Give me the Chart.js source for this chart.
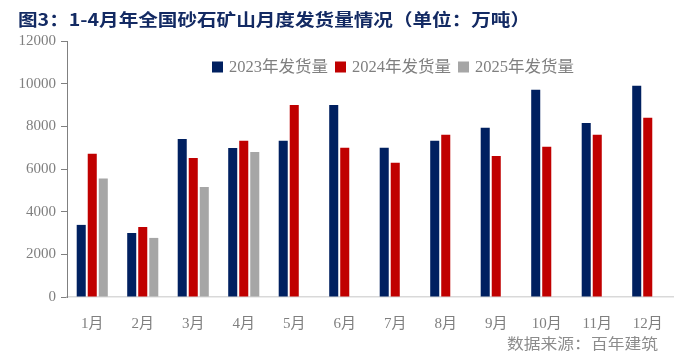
<!DOCTYPE html>
<html lang="zh">
<head>
<meta charset="UTF-8">
<title>全国砂石矿山月度发货量情况</title>
<script src="https://cdn.jsdelivr.net/npm/chart.js"></script>
<style>
  html, body { margin: 0; padding: 0; background: #fff; }
  #wrap { width: 692px; height: 358px; position: relative; }
</style>
</head>
<body>
<div id="wrap"><canvas id="chart"></canvas></div>
<script>
// data (万吨)
const months = ['1月', '2月', '3月', '4月', '5月', '6月', '7月', '8月', '9月', '10月', '11月', '12月'];
const ship2023 = [3380, 3000, 7410, 6990, 7320, 9000, 7000, 7320, 7930, 9710, 8160, 9900];
const ship2024 = [6710, 3280, 6520, 7320, 9000, 7000, 6290, 7600, 6610, 7040, 7600, 8400];
const ship2025 = [5550, 2770, 5160, 6800, null, null, null, null, null, null, null, null];
const yTicks = [0, 2000, 4000, 6000, 8000, 10000, 12000];
const seriesNames = ['2023年发货量', '2024年发货量', '2025年发货量'];
const titleText = '图3：1-4月年全国砂石矿山月度发货量情况（单位：万吨）';
const sourceText = '数据来源：百年建筑';

const colors = ['#002060', '#c00000', '#a6a6a6'];
const gray = '#7f7f7f';
const fontFam = '"Liberation Serif", "Noto Sans CJK SC", serif';

// title, legend and source are drawn by hand so they can sit inside the plot
const textPlugin = {
  id: 'texts',
  afterDraw(chart) {
    const ctx = chart.ctx;

    // title, stretched a little like the original
    ctx.save();
    ctx.font = 'bold 17px "Noto Sans CJK SC"';
    ctx.fillStyle = '#132a63';
    ctx.textBaseline = 'middle';
    const tw = ctx.measureText(titleText).width;
    ctx.translate(18, 20);
    ctx.scale(512 / tw, 1);
    ctx.fillText(titleText, 0, 0);
    ctx.restore();

    // legend
    chart.data.datasets.forEach((ds, i) => {
      const x = 212 + i * 123;
      const y = 67;
      ctx.save();
      ctx.fillStyle = ds.backgroundColor;
      ctx.fillRect(x, y - 5.5, 11, 11);
      ctx.font = '16px ' + fontFam;
      ctx.fillStyle = gray;
      ctx.textBaseline = 'middle';
      const w = ctx.measureText(ds.label).width;
      ctx.translate(x + 17, y + 1);
      ctx.scale(99 / w, 1);
      ctx.fillText(ds.label, 0, 0);
      ctx.restore();
    });

    // source note
    ctx.save();
    ctx.font = '15px "Noto Sans CJK SC"';
    ctx.fillStyle = '#8c8c8c';
    ctx.textBaseline = 'middle';
    const sw = ctx.measureText(sourceText).width;
    ctx.translate(507, 343);
    ctx.scale(151 / sw, 1);
    ctx.fillText(sourceText, 0, 0);
    ctx.restore();
  }
};

new Chart(document.getElementById('chart'), {
  type: 'bar',
  data: {
    labels: months,
    datasets: [ship2023, ship2024, ship2025].map((d, i) => ({
      label: seriesNames[i],
      data: d,
      backgroundColor: colors[i],
      categoryPercentage: 0.655,
      barPercentage: 0.82
    }))
  },
  options: {
    responsive: true,
    maintainAspectRatio: false,
    animation: false,
    layout: { padding: { top: 41, right: 19, left: 0, bottom: 0 } },
    plugins: {
      legend: { display: false },
      tooltip: { enabled: false }
    },
    scales: {
      x: {
        grid: { display: false },
        border: { display: true, color: '#d9d9d9', width: 1.5 },
        ticks: { color: gray, font: { family: fontFam, size: 15 }, padding: 10 },
        afterFit(s) { s.height = 61; }
      },
      y: {
        min: 0,
        max: 12000,
        afterBuildTicks(s) { s.ticks = yTicks.map(v => ({ value: v })); },
        ticks: { color: gray, font: { family: fontFam, size: 15 }, padding: 5, callback: v => String(v) },
        grid: { drawOnChartArea: false, drawTicks: true, tickLength: 6, color: '#808080' },
        border: { color: '#808080' },
        afterFit(s) { s.width = 67; }
      }
    }
  },
  plugins: [textPlugin]
});
</script>
</body>
</html>
